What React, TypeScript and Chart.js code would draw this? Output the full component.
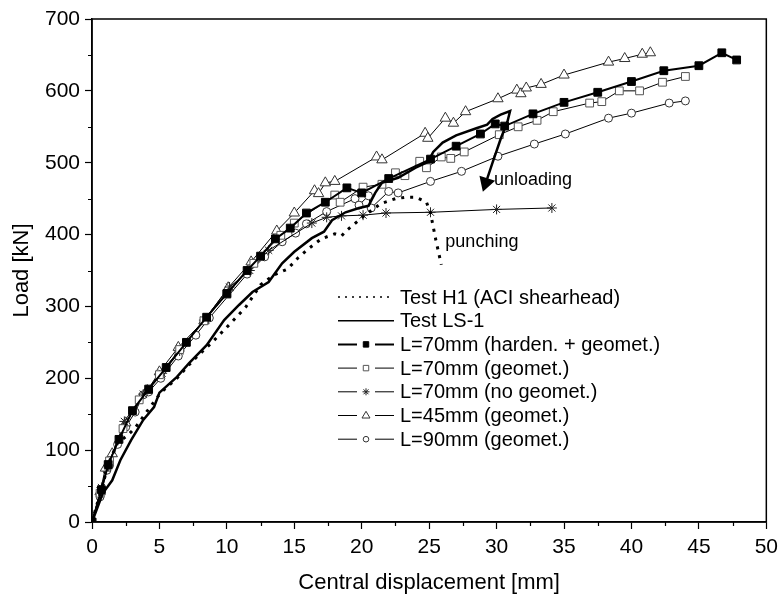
import React, { useEffect, useRef } from 'react';
import { Chart, registerables } from 'chart.js';
Chart.register(...registerables);

// ---- Data ----
const h1X = [0, 0.6, 1.3, 1.9, 2.6, 3.2, 4.0, 5.1, 6.3, 7.5, 8.9, 10.2, 11.4, 12.5, 13.5, 14.5, 15.3, 16.1, 17.0, 18.0, 18.5, 18.9, 20.1, 21.4, 22.5, 23.3, 24.0, 24.8, 25.1, 25.3, 25.5, 25.9];
const h1Y = [0, 40, 85, 110, 120, 131, 152, 180, 200, 225, 250, 275, 299, 330, 344, 352, 368, 381, 394, 401, 398, 406, 425, 443, 450, 452, 452, 445, 430, 411, 392, 358];

const ls1X = [0, 0.3, 0.8, 1.5, 2.1, 2.9, 3.8, 4.6, 5.0, 6.3, 7.2, 8.5, 9.8, 10.9, 11.9, 13.1, 14.1, 15.0, 16.3, 17.2, 17.8, 18.8, 19.8, 20.5, 21.0, 21.5, 22.7, 24.0, 24.9, 25.3, 26.0, 27.0, 28.5, 29.3, 29.7, 30.3, 31.0, 30.8, 30.3, 29.7, 29.2];
const ls1Y = [0, 15, 40, 58, 86, 114, 142, 160, 180, 202, 221, 246, 281, 302, 320, 334, 360, 376, 395, 404, 420, 431, 437, 440, 458, 472, 479, 493, 501, 515, 528, 538, 548, 553, 561, 567, 572, 557, 533, 500, 472];

const hardenX = [0, 0.7, 1.2, 2.0, 3.0, 4.2, 5.5, 7.0, 8.5, 10.0, 11.5, 12.5, 13.6, 14.7, 15.9, 17.3, 18.9, 20.0, 22.0, 25.1, 27.0, 28.8, 29.9, 30.6, 32.7, 35.0, 37.5, 40.0, 42.4, 45.0, 46.7, 47.8];
const hardenY = [0, 45, 80, 115, 155, 185, 215, 250, 285, 318, 350, 370, 394, 409, 430, 445, 465, 458, 478, 505, 523, 540, 554, 551, 568, 584, 598, 613, 628, 635, 653, 643];

const geomX = [0, 0.6, 1.3, 2.3, 3.5, 5.0, 6.5, 8.3, 10.0, 12.0, 14.0, 15.0, 18.0, 18.4, 20.1, 21.5, 22.5, 23.2, 24.3, 24.8, 25.9, 26.6, 27.6, 30.2, 31.6, 33.0, 34.2, 36.9, 37.8, 39.1, 40.6, 42.3, 44.0];
const geomY = [0, 40, 85, 130, 170, 205, 240, 280, 317, 360, 399, 416, 455, 445, 466, 470, 486, 482, 502, 493, 508, 506, 515, 539, 550, 559, 571, 583, 585, 600, 600, 612, 620];

const noGeomX = [0, 0.7, 1.2, 2.4, 3.8, 5.2, 6.5, 8.3, 10.2, 11.7, 13.1, 16.3, 17.4, 18.5, 20.1, 21.8, 25.1, 30.0, 34.1];
const noGeomY = [0, 48, 78, 140, 178, 207, 238, 281, 327, 350, 378, 416, 424, 426, 427, 430, 431, 435, 437];

const l45X = [0, 0.6, 1.0, 1.5, 2.5, 4.1, 5.0, 6.4, 8.3, 10.1, 11.8, 13.7, 15.0, 16.5, 16.8, 17.3, 18.0, 21.1, 21.5, 24.7, 24.9, 26.2, 26.8, 27.7, 30.1, 31.5, 31.8, 32.2, 33.3, 35.0, 38.3, 39.5, 40.8, 41.4];
const l45Y = [0, 42, 75, 95, 138, 183, 209, 243, 280, 326, 362, 405, 430, 461, 457, 472, 474, 508, 504, 541, 534, 562, 555, 571, 589, 601, 596, 604, 609, 622, 640, 645, 651, 653];

const l90X = [0, 0.6, 1.1, 1.3, 1.9, 2.5, 3.2, 3.8, 4.2, 5.1, 6.4, 7.7, 8.7, 11.5, 12.8, 14.1, 15.1, 15.9, 17.4, 19.5, 19.8, 20.5, 20.7, 22.0, 22.7, 25.1, 27.4, 30.1, 32.8, 35.1, 38.3, 40.0, 42.8, 44.0];
const l90Y = [0, 35, 72, 79, 108, 132, 153, 177, 181, 200, 231, 260, 284, 345, 369, 390, 402, 415, 432, 450, 441, 454, 437, 460, 458, 474, 488, 509, 526, 540, 562, 569, 583, 586];

const seriesLabels = [
  'Test H1 (ACI shearhead)',
  'Test LS-1',
  'L=70mm (harden. + geomet.)',
  'L=70mm (geomet.)',
  'L=70mm (no geomet.)',
  'L=45mm (geomet.)',
  'L=90mm (geomet.)',
];

const xTitle = 'Central displacement [mm]';
const yTitle = 'Load [kN]';
const xMin = 0, xMax = 50, xStep = 5;
const yMin = 0, yMax = 700, yStep = 100;

const annotations = [
  { text: 'unloading', x: 29.8, y: 476 },
  { text: 'punching', x: 26.2, y: 390 },
];

const FONT = '"Liberation Sans", Arial, sans-serif';

const pts = (xs: number[], ys: number[]) => xs.map((x, i) => ({ x, y: ys[i] }));

function drawMarker(ctx: CanvasRenderingContext2D, style: string, x: number, y: number, r: number, fill: string, stroke: string, lw: number) {
  ctx.save();
  ctx.lineWidth = lw;
  ctx.fillStyle = fill;
  ctx.strokeStyle = stroke;
  ctx.beginPath();
  if (style === 'rect') {
    const s = r * Math.SQRT1_2;
    ctx.rect(x - s, y - s, 2 * s, 2 * s);
    ctx.fill();
    ctx.stroke();
  } else if (style === 'triangle') {
    const h = r * 1.5;
    ctx.moveTo(x, y - r);
    ctx.lineTo(x + r * 0.866 * 1.1, y + r * 0.6);
    ctx.lineTo(x - r * 0.866 * 1.1, y + r * 0.6);
    ctx.closePath();
    ctx.fill();
    ctx.stroke();
    void h;
  } else if (style === 'circle') {
    ctx.arc(x, y, r, 0, Math.PI * 2);
    ctx.fill();
    ctx.stroke();
  } else if (style === 'star') {
    for (let k = 0; k < 4; k++) {
      const a = (k * Math.PI) / 4;
      ctx.moveTo(x - r * Math.cos(a), y - r * Math.sin(a));
      ctx.lineTo(x + r * Math.cos(a), y + r * Math.sin(a));
    }
    ctx.stroke();
  }
  ctx.restore();
}

const framePlugin = {
  id: 'frameAndExtras',
  afterDraw(chart: any) {
    const { ctx, chartArea: a, scales } = chart;
    const xs = scales.x, ys = scales.y;
    ctx.save();
    // frame
    ctx.strokeStyle = '#000';
    ctx.lineWidth = 1.5;
    ctx.strokeRect(a.left, a.top, a.right - a.left, a.bottom - a.top);
    // minor ticks
    ctx.lineWidth = 1.2;
    ctx.beginPath();
    for (let v = xMin + xStep / 2; v < xMax; v += xStep) {
      const px = Math.round(xs.getPixelForValue(v)) + 0.5;
      ctx.moveTo(px, a.bottom);
      ctx.lineTo(px, a.bottom + 4);
    }
    for (let v = yMin + yStep / 2; v < yMax; v += yStep) {
      const py = Math.round(ys.getPixelForValue(v)) + 0.5;
      ctx.moveTo(a.left - 4, py);
      ctx.lineTo(a.left, py);
    }
    ctx.stroke();

    // annotations
    ctx.fillStyle = '#000';
    ctx.font = `18px ${FONT}`;
    ctx.textAlign = 'left';
    ctx.textBaseline = 'middle';
    annotations.forEach((an) => {
      ctx.fillText(an.text, xs.getPixelForValue(an.x), ys.getPixelForValue(an.y));
    });

    // legend
    const lx0 = a.left + 246;
    const ly0 = a.top + 278;
    const rowH = 23.7;
    ctx.font = `20px ${FONT}`;
    chart.data.datasets.forEach((ds: any, i: number) => {
      const y = ly0 + i * rowH;
      const x1 = lx0, x2 = lx0 + 56;
      ctx.save();
      ctx.strokeStyle = '#000';
      if (ds.legendDash) {
        ctx.lineWidth = 1.5;
        ctx.setLineDash([2, 5]);
        ctx.beginPath();
        ctx.moveTo(x1, y);
        ctx.lineTo(x2, y);
        ctx.stroke();
      } else if (ds.legendMarker) {
        ctx.lineWidth = ds.borderWidth;
        ctx.beginPath();
        ctx.moveTo(x1, y);
        ctx.lineTo(x1 + 19, y);
        ctx.moveTo(x2 - 19, y);
        ctx.lineTo(x2, y);
        ctx.stroke();
        drawMarker(ctx, ds.pointStyle, (x1 + x2) / 2, y, ds.pointRadius * 0.7, ds.pointBackgroundColor, ds.pointBorderColor, 1);
      } else {
        ctx.lineWidth = 1.5;
        ctx.beginPath();
        ctx.moveTo(x1, y);
        ctx.lineTo(x2, y);
        ctx.stroke();
      }
      ctx.restore();
      ctx.fillStyle = '#000';
      ctx.textBaseline = 'middle';
      ctx.fillText(ds.label, lx0 + 62, y + 1);
    });
    ctx.restore();
  },
};

export default function App() {
  const ref = useRef<HTMLCanvasElement | null>(null);

  useEffect(() => {
    document.body.style.margin = '0';
    const canvas = ref.current;
    if (!canvas) return;
    const lastLs = ls1X.length - 1;
    const modelLine = (label: string, data: any, style: string, r: number, fill: string, stroke: string, bw: number) => ({
      label,
      data,
      showLine: true,
      borderColor: '#000',
      borderWidth: bw,
      pointStyle: style,
      pointRadius: r,
      pointBackgroundColor: fill,
      pointBorderColor: stroke,
      pointBorderWidth: 1,
      legendMarker: true,
    });
    const chart = new Chart(canvas, {
      type: 'scatter',
      data: {
        datasets: [
          {
            label: seriesLabels[0],
            data: pts(h1X, h1Y),
            showLine: true,
            borderColor: '#000',
            borderWidth: 3,
            borderDash: [3, 6],
            pointRadius: 0,
            legendDash: true,
          } as any,
          {
            label: seriesLabels[1],
            data: pts(ls1X, ls1Y),
            showLine: true,
            borderColor: '#000',
            borderWidth: 2.5,
            pointStyle: 'triangle',
            pointRadius: (c: any) => (c.dataIndex === lastLs ? 7 : 0),
            pointRotation: 198,
            pointBackgroundColor: '#000',
            pointBorderColor: '#000',
          } as any,
          modelLine(seriesLabels[2], pts(hardenX, hardenY), 'rect', 5.5, '#000', '#000', 2),
          modelLine(seriesLabels[3], pts(geomX, geomY), 'rect', 5.5, '#fff', '#555', 1),
          modelLine(seriesLabels[4], pts(noGeomX, noGeomY), 'star', 5, '#000', '#222', 1),
          modelLine(seriesLabels[5], pts(l45X, l45Y), 'triangle', 6, '#fff', '#333', 1),
          modelLine(seriesLabels[6], pts(l90X, l90Y), 'circle', 4, '#fff', '#333', 1),
        ] as any,
      },
      options: {
        animation: false,
        responsive: false,
        layout: { padding: { left: 0, right: 14, top: 19, bottom: 0 } },
        plugins: { legend: { display: false }, tooltip: { enabled: false } },
        scales: {
          x: {
            type: 'linear',
            min: xMin,
            max: xMax,
            ticks: { stepSize: xStep, color: '#000', font: { family: FONT, size: 21 }, padding: 6, maxRotation: 0 },
            grid: { drawOnChartArea: false, drawTicks: true, tickLength: 7, color: '#000', tickWidth: 1.2 },
            border: { display: true, color: '#000', width: 1.5 },
            title: { display: true, text: xTitle, color: '#000', font: { family: FONT, size: 22 }, padding: { top: 0, bottom: 9 } },
            afterFit: (s: any) => { s.height = 83; },
          },
          y: {
            type: 'linear',
            min: yMin,
            max: yMax,
            ticks: { stepSize: yStep, color: '#000', font: { family: FONT, size: 21 }, padding: 5 },
            grid: { drawOnChartArea: false, drawTicks: true, tickLength: 7, color: '#000', tickWidth: 1.2 },
            border: { display: true, color: '#000', width: 1.5 },
            title: { display: true, text: yTitle, color: '#000', font: { family: FONT, size: 22 }, padding: { top: 9, bottom: 0 } },
            afterFit: (s: any) => { s.width = 92; },
          },
        },
      } as any,
      plugins: [framePlugin],
    });
    return () => chart.destroy();
  }, []);

  return <canvas ref={ref} width={784} height={605} style={{ display: 'block' }} />;
}
